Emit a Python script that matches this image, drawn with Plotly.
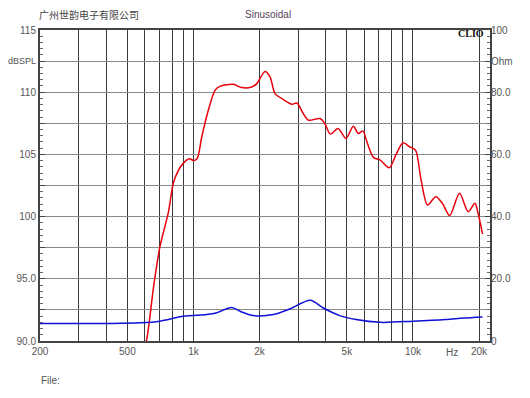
import plotly.graph_objects as go
import numpy as np

# SPL response (dB) vs frequency (Hz)
spl_freq = [585, 612, 660, 704, 768, 810, 853, 900, 957, 1006, 1042, 1091, 1169, 1254, 1320,
            1520, 1660, 1842, 1944, 2120, 2236, 2354, 2571, 2810, 2960, 3166, 3340, 3773,
            3966, 4207, 4558, 4955, 5349, 5641, 5912, 6205, 6605, 7098, 7800, 8420, 9018,
            9660, 10270, 10890, 11660, 12700, 13610, 14700, 16300, 17850, 19150, 19800, 20740]
spl_db = [89.0, 90.1, 94.5, 97.6, 100.3, 102.7, 103.7, 104.3, 104.65, 104.5, 104.7, 106.4,
          108.55, 110.15, 110.47, 110.63, 110.37, 110.42, 110.69, 111.67, 111.22, 109.89,
          109.41, 109.03, 109.13, 108.28, 107.75, 107.88, 107.48, 106.63, 107.08, 106.28,
          107.27, 106.68, 106.89, 105.88, 104.76, 104.54, 103.93, 105.08, 105.93, 105.61,
          105.34, 102.94, 100.94, 101.6, 101.07, 100.08, 101.87, 100.4, 101.07, 100.27, 98.61]

# Impedance (Ohm) vs frequency (Hz)
imp_freq = [200, 300, 400, 571, 704, 900, 1148, 1270, 1494, 1632, 1876, 2315, 2750, 3405,
            3904, 4640, 5500, 7100, 10000, 14100, 17000, 20740]
imp_ohm = [5.6, 5.6, 5.65, 5.83, 6.35, 7.95, 8.5, 9.0, 10.8, 9.55, 8.17, 8.5, 10.3, 13.1,
           10.6, 8.17, 6.9, 6.0, 6.35, 6.9, 7.4, 7.75]

x_grid = [200, 300, 400, 500, 600, 700, 800, 900, 1000, 2000, 3000, 4000, 5000, 6000,
          7000, 8000, 9000, 10000, 20000]
x_labels = ["200", "", "", "500", "", "", "", "", "1k", "2k", "", "", "5k", "", "", "",
            "", "10k", "20k"]
y_vals = [90, 92.5, 95, 97.5, 100, 102.5, 105, 107.5, 110, 112.5, 115]
y_labels = ["90.0", "", "95.0", "", "100", "", "105", "", "110", "", "115"]
y_unit = "dBSPL"
y2_vals = [0, 20, 40, 60, 80, 90, 100]
y2_labels = ["0", "20.0", "40.0", "60.0", "80.0", "Ohm", "100"]

font_lbl = dict(family="Arial, Liberation Sans, sans-serif", size=10, color="#555555")

# page body has an 8px margin: design in window pixels, then shift
OFF = 8
W, H = 530 - OFF, 398 - OFF
PL, PR, PT, PB = 40 - OFF, 490 - OFF, 30 - OFF, 341 - OFF


def px(x):
    return (x - OFF - PL) / (PR - PL)


def py(y):
    return (PB - (y - OFF)) / (PB - PT)


fig = go.Figure()
fig.add_trace(go.Scatter(x=spl_freq, y=spl_db, mode="lines",
                         line=dict(color="#e8000b", width=1.5, shape="spline", smoothing=0.8),
                         showlegend=False, hoverinfo="skip"))
fig.add_trace(go.Scatter(x=imp_freq, y=imp_ohm, mode="lines", yaxis="y2",
                         line=dict(color="#1010d8", width=1.5, shape="spline", smoothing=0.8),
                         showlegend=False, hoverinfo="skip"))

fig.update_layout(
    width=W, height=H,
    margin=dict(l=PL, r=W - PR, t=PT, b=H - PB, autoexpand=False),
    paper_bgcolor="white", plot_bgcolor="white",
    xaxis=dict(type="log", range=[np.log10(200), np.log10(22440)], automargin=False,
               tickmode="array", tickvals=x_grid, ticktext=x_labels,
               showgrid=True, gridcolor="#3a3a3a", gridwidth=1,
               showline=True, linecolor="#444444", linewidth=2, mirror=True,
               ticks="", tickfont=font_lbl, zeroline=False),
    yaxis=dict(range=[90, 115], tickmode="array", tickvals=y_vals, ticktext=y_labels,
               automargin=False,
               showgrid=True, gridcolor="#8a8a8a", gridwidth=1,
               showline=True, linecolor="#444444", linewidth=2, mirror=True,
               ticks="inside", ticklen=5, tickcolor="#444444",
               minor=dict(dtick=0.5, ticks="inside", ticklen=3, tickcolor="#666666", showgrid=False),
               tickfont=font_lbl, zeroline=False),
    yaxis2=dict(range=[0, 100], overlaying="y", side="right", tickmode="array",
                automargin=False,
                tickvals=y2_vals, ticktext=y2_labels, showgrid=False,
                ticks="inside", ticklen=5, tickcolor="#444444",
                minor=dict(dtick=2, ticks="inside", ticklen=3, tickcolor="#666666", showgrid=False),
                tickfont=font_lbl, zeroline=False),
)

fig.add_annotation(x=px(38), y=112.5, xref="paper", yref="y", xanchor="right",
                   yanchor="middle", text=y_unit, showarrow=False,
                   font=dict(family="Arial, Liberation Sans, sans-serif", size=9, color="#555555"))
fig.add_annotation(x=np.log10(15000), y=0, xref="x", yref="paper", yshift=-11,
                   yanchor="middle", text="Hz", showarrow=False, font=font_lbl)
fig.add_annotation(x=px(486), y=py(33), xref="paper", yref="paper",
                   xanchor="right", yanchor="middle", text="<b>CLIO</b>", showarrow=False,
                   font=dict(family="Liberation Serif, Times New Roman, serif", size=10, color="#111111"))
fig.add_annotation(x=px(37), y=py(14), xref="paper", yref="paper", xanchor="left",
                   yanchor="middle", text="广州世韵电子有限公司", showarrow=False,
                   font=dict(family="Noto Sans CJK SC", size=10, color="#444444"))
fig.add_annotation(x=px(268), y=py(14), xref="paper", yref="paper", xanchor="center",
                   yanchor="middle", text="Sinusoidal", showarrow=False,
                   font=dict(family="Arial, Liberation Sans, sans-serif", size=10, color="#554455"))
fig.add_annotation(x=px(39), y=py(380), xref="paper", yref="paper", xanchor="left",
                   yanchor="middle", text="File:", showarrow=False,
                   font=dict(family="Arial, Liberation Sans, sans-serif", size=10, color="#555555"))

fig.write_html("out.html")
